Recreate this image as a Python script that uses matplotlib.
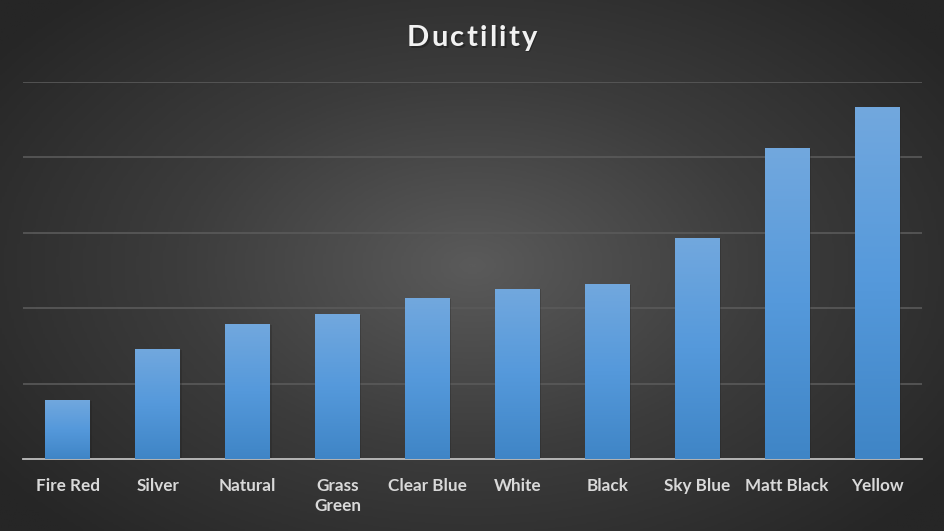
import numpy as np
import matplotlib
matplotlib.use("Agg")
import matplotlib.pyplot as plt
from matplotlib.colors import LinearSegmentedColormap

colours = ["Fire Red", "Silver", "Natural", "Grass\nGreen", "Clear Blue",
           "White", "Black", "Sky Blue", "Matt Black", "Yellow"]
ductility = [0.785, 1.46, 1.79, 1.92, 2.13, 2.26, 2.32, 2.93, 4.12, 4.67]
y_max = 5
title = "Ductility"


def radial_background(fig):
    bg = fig.add_axes([0, 0, 1, 1], zorder=-10)
    xx, yy = np.meshgrid(np.linspace(-1, 1, 400), np.linspace(-1, 1, 240))
    r = np.sqrt(xx ** 2 + (yy * 0.9) ** 2)
    r = np.clip(r / 1.25, 0, 1)
    cmap = LinearSegmentedColormap.from_list("bg", ["#5a5a5a", "#3c3c3c", "#262626"])
    bg.imshow(r, cmap=cmap, aspect="auto", extent=[0, 1, 0, 1])
    bg.axis("off")


def gradient_bars(ax, x, heights, width):
    bars = ax.bar(x, heights, width=width, color="#5b9bd5", zorder=3)
    grad = np.linspace(0, 1, 256).reshape(-1, 1)
    cmap = LinearSegmentedColormap.from_list("bar", ["#3f85c6", "#5599db", "#72a8de"])
    for b in bars:
        # soft shadow behind the bar
        ax.bar(b.get_x() + b.get_width() / 2 + 0.015, b.get_height(), width=width,
               bottom=-0.01, color="#1c1c1c", alpha=0.25, zorder=2)
        im = ax.imshow(grad, cmap=cmap, aspect="auto", origin="lower",
                       extent=[b.get_x(), b.get_x() + b.get_width(), 0, b.get_height()],
                       zorder=4)
        im.set_clip_path(b)
    return bars


def spaced_title(fig, s, xc, y, width_px, **kw):
    # lay out letters one by one so the title gets wider tracking
    r = fig.canvas.get_renderer()
    widths = []
    for ch in s:
        t = fig.text(0, 0, ch, **kw)
        widths.append(t.get_window_extent(r).width)
        t.remove()
    gap = (width_px - sum(widths)) / (len(s) - 1)
    x = xc * fig.bbox.width - width_px / 2
    for ch, w in zip(s, widths):
        fig.text(x / fig.bbox.width + 1.5 / fig.bbox.width, y - 1.5 / fig.bbox.height, ch,
                 ha="left", va="center", color="#1a1a1a", alpha=0.5, **kw)
        fig.text(x / fig.bbox.width, y, ch, ha="left", va="center", color="#f2f2f2", **kw)
        x += w + gap


fig = plt.figure(figsize=(9.45, 5.31), dpi=100)
radial_background(fig)

ax = fig.add_axes([23 / 945, 1 - 459.3 / 531, (922 - 23) / 945, (459.3 - 81.7) / 531])
ax.set_facecolor("none")
x = np.arange(len(colours))
gradient_bars(ax, x, ductility, 0.5)

ax.set_xlim(-0.5, len(colours) - 0.5)
ax.set_ylim(0, y_max)
ax.set_yticks(np.arange(1, y_max + 1))
ax.yaxis.grid(True, color="#5a5a5a", linewidth=1.2, zorder=0)
ax.set_axisbelow(True)
ax.tick_params(axis="y", left=False, labelleft=False)
ax.tick_params(axis="x", bottom=False, pad=10)
ax.set_xticks(x)
ax.set_xticklabels(colours, fontsize=12.3, fontweight="bold", color="#d9d9d9",
                   family=["Lato", "DejaVu Sans"], linespacing=1.3, va="top")
for s in ["top", "right", "left"]:
    ax.spines[s].set_visible(False)
ax.spines["bottom"].set_color("#bfbfbf")
ax.spines["bottom"].set_linewidth(1.3)

spaced_title(fig, title, 472 / 945, 1 - 38 / 531, 130, fontsize=21,
             fontweight="bold", family=["Lato", "DejaVu Sans"])

fig.savefig("out.png", dpi=100)
